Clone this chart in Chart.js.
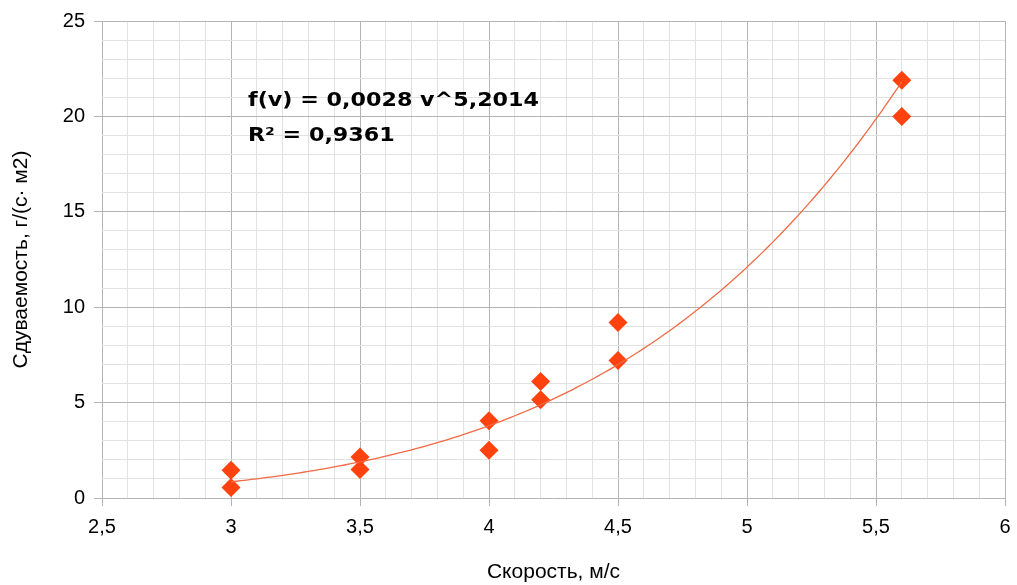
<!DOCTYPE html>
<html>
<head>
<meta charset="utf-8">
<script src="https://cdn.jsdelivr.net/npm/chart.js@4"></script>
<style>
  html, body { margin: 0; padding: 0; background: #fff; }
  #wrap { width: 1017px; height: 585px; }
</style>
</head>
<body>
<div id="wrap"><canvas id="canvas" width="1017" height="585"></canvas></div>
<script>
// measured points
const speeds = [3, 3, 3.5, 3.5, 4, 4, 4.2, 4.2, 4.5, 4.5, 5.6, 5.6];
const rates = [1.45, 0.55, 2.15, 1.5, 4.05, 2.5, 6.1, 5.15, 9.2, 7.2, 21.9, 20.0];

// power trendline from the chart: f(v) = 0,0028 v^5,2014
const trendCoef = 0.0028;
const trendExp = 5.2014;
const trendFrom = 3;
const trendTo = 5.6;
const trendLabel = ['f(v) = 0,0028 v^5,2014', 'R² = 0,9361'];

const xMin = 2.5, xMax = 6, xMinor = 0.1, xMajor = 0.5;
const yMin = 0, yMax = 25, yMinor = 1, yMajor = 5;

const xTitle = 'Скорость, м/с';
const yTitle = 'Сдуваемость, г/(с· м2)';

const pointColor = '#ff420e';
const trendColor = '#f06a45';

function isMajor(v, step) {
    const r = v / step;
    return Math.abs(r - Math.round(r)) < 1e-6;
}
function makeTicks(min, max, step) {
    const out = [];
    const n = Math.round((max - min) / step);
    for (let i = 0; i <= n; i++) out.push({ value: Math.round((min + i * step) * 1000) / 1000 });
    return out;
}

const scatterData = speeds.map((x, i) => ({ x: x, y: rates[i] }));
const trendData = [];
for (let i = 0; i <= 130; i++) {
    const v = trendFrom + (trendTo - trendFrom) * i / 130;
    trendData.push({ x: v, y: trendCoef * Math.pow(v, trendExp) });
}

// equation text, slightly widened like the original
const labelPlugin = {
    id: 'trendLabel',
    afterDatasetsDraw(chart) {
        const ctx = chart.ctx;
        ctx.save();
        ctx.font = 'bold 19px "DejaVu Sans"';
        ctx.fillStyle = '#000';
        ctx.textBaseline = 'middle';
        ctx.translate(248, 0);
        ctx.scale(1.17, 1);
        ctx.fillText(trendLabel[0], 0, 101);
        ctx.fillText(trendLabel[1], 0, 136);
        ctx.restore();
    }
};

const ctx = document.getElementById('canvas').getContext('2d');
const chart = new Chart(ctx, {
    type: 'scatter',
    data: {
        datasets: [{
            label: 'trend',
            type: 'line',
            data: trendData,
            borderColor: trendColor,
            borderWidth: 1.3,
            pointRadius: 0,
            fill: false,
            tension: 0
        }, {
            label: 'data',
            data: scatterData,
            pointStyle: 'rectRot',
            pointRadius: 9.5,
            backgroundColor: pointColor,
            borderColor: pointColor,
            borderWidth: 0
        }]
    },
    options: {
        responsive: false,
        animation: false,
        devicePixelRatio: 1,
        layout: { padding: { top: 20, right: 12, left: 0, bottom: 0 } },
        plugins: {
            legend: { display: false },
            tooltip: { enabled: false }
        },
        scales: {
            x: {
                type: 'linear',
                min: xMin, max: xMax,
                afterBuildTicks: s => { s.ticks = makeTicks(xMin, xMax, xMinor); },
                afterFit: s => { s.height = 87; s.paddingRight = 0; s.paddingLeft = 0; },
                border: { display: false },
                grid: {
                    color: c => isMajor(c.tick.value, xMajor) ? '#b3b3b3' : '#e2e2e2',
                    tickColor: c => isMajor(c.tick.value, xMajor) ? '#b3b3b3' : 'rgba(0,0,0,0)',
                    tickLength: 8,
                    lineWidth: 1
                },
                ticks: {
                    autoSkip: false,
                    maxRotation: 0,
                    color: '#000',
                    padding: 9,
                    font: { family: '"Liberation Sans"', size: 20 },
                    callback: v => isMajor(v, xMajor) ? String(v).replace('.', ',') : ''
                },
                title: {
                    display: true,
                    text: xTitle,
                    color: '#000',
                    font: { family: '"Liberation Sans"', size: 21 },
                    padding: { top: 16, bottom: 0 }
                }
            },
            y: {
                type: 'linear',
                min: yMin, max: yMax,
                afterBuildTicks: s => { s.ticks = makeTicks(yMin, yMax, yMinor); },
                afterFit: s => { s.width = 102; },
                border: { display: false },
                grid: {
                    color: c => isMajor(c.tick.value, yMajor) ? '#b3b3b3' : '#e2e2e2',
                    tickColor: c => isMajor(c.tick.value, yMajor) ? '#b3b3b3' : 'rgba(0,0,0,0)',
                    tickLength: 8,
                    lineWidth: 1
                },
                ticks: {
                    autoSkip: false,
                    color: '#000',
                    padding: 9,
                    font: { family: '"Liberation Sans"', size: 20 },
                    callback: v => isMajor(v, yMajor) ? String(v) : ''
                },
                title: {
                    display: true,
                    text: yTitle,
                    color: '#000',
                    font: { family: '"Liberation Sans"', size: 21 },
                    padding: { top: 9, bottom: 4 }
                }
            }
        }
    },
    plugins: [labelPlugin]
});
</script>
</body>
</html>
